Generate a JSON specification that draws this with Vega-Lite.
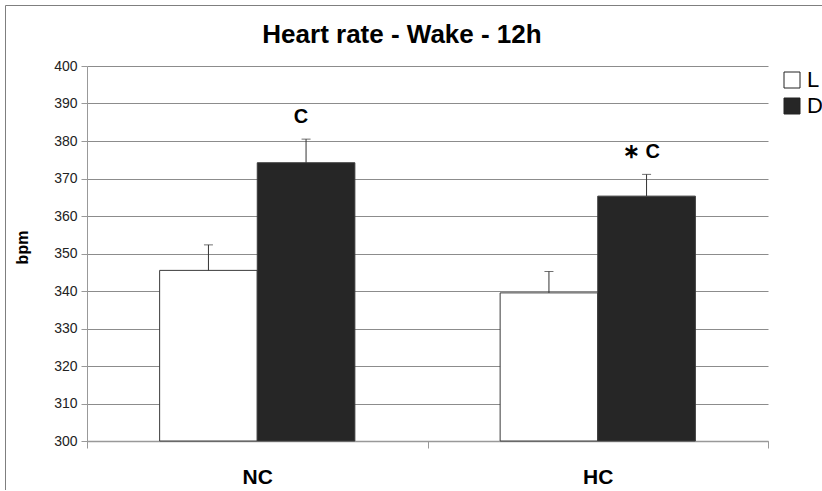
{
  "$schema": "https://vega.github.io/schema/vega-lite/v6.json",
  "autosize": {"type": "none"},
  "padding": {"left": 5, "top": 5, "right": 0, "bottom": 0},
  "width": 830,
  "height": 485,
  "background": "white",
  "config": {
    "font": "Liberation Sans",
    "view": {"stroke": "#7f7f7f", "strokeWidth": 1}
  },
  "title": {
    "text": "Heart rate - Wake - 12h",
    "font": "Liberation Sans",
    "fontSize": 26,
    "fontWeight": "bold",
    "color": "#000000",
    "anchor": "middle",
    "frame": "group",
    "baseline": "middle",
    "offset": 0,
    "dx": -18,
    "dy": 56
  },
  "data": {
    "values": [
      {"Group": "NC", "Sleep": "L", "bpm": 345.5, "errTop": 352.3, "label": ""},
      {"Group": "NC", "Sleep": "D", "bpm": 374.2, "errTop": 380.5, "label": "C"},
      {"Group": "HC", "Sleep": "L", "bpm": 339.5, "errTop": 345.2, "label": ""},
      {"Group": "HC", "Sleep": "D", "bpm": 365.3, "errTop": 371.1, "label": "∗ C"}
    ]
  },
  "encoding": {
    "x": {
      "field": "Group",
      "type": "nominal",
      "sort": ["NC", "HC"],
      "scale": {"range": [82, 763], "paddingInner": 0, "paddingOuter": 0},
      "axis": {
        "title": null,
        "offset": -49,
        "tickBand": "extent",
        "labelAngle": 0,
        "labelFont": "Liberation Sans",
        "labelFontSize": 21,
        "labelFontWeight": "bold",
        "labelColor": "#000000",
        "labelBaseline": "middle",
        "labelPadding": 29,
        "tickSize": 7,
        "tickColor": "#999999",
        "domainColor": "#999999",
        "domainWidth": 1.5,
        "tickWidth": 1
      }
    },
    "xOffset": {
      "field": "Sleep",
      "type": "nominal",
      "sort": ["L", "D"],
      "scale": {"paddingInner": 0, "paddingOuter": 0.744}
    }
  },
  "layer": [
    {
      "mark": {"type": "bar", "stroke": "#3a3a3a", "strokeWidth": 1},
      "encoding": {
        "y": {
          "field": "bpm",
          "type": "quantitative",
          "scale": {"domain": [300, 400], "range": [436, 61], "zero": false, "nice": false},
          "axis": {
            "offset": -82,
            "values": [300, 310, 320, 330, 340, 350, 360, 370, 380, 390, 400],
            "grid": true,
            "gridColor": "#8c8c8c",
            "gridWidth": 1,
            "domainColor": "#999999",
            "domainWidth": 1,
            "tickColor": "#999999",
            "tickSize": 6,
            "labelFont": "Liberation Sans",
            "labelFontSize": 14,
            "labelColor": "#222222",
            "labelPadding": 4,
            "title": "bpm",
            "titleFont": "Liberation Sans",
            "titleFontSize": 16,
            "titleFontWeight": "bold",
            "titleColor": "#000000",
            "titleAngle": -90,
            "titleBaseline": "middle",
            "titleAlign": "center",
            "titleX": -65,
            "titleY": 242
          }
        },
        "y2": {"datum": 300},
        "color": {
          "field": "Sleep",
          "type": "nominal",
          "sort": ["L", "D"],
          "scale": {"domain": ["L", "D"], "range": ["#ffffff", "#262626"]},
          "legend": {
            "orient": "none",
            "legendX": 776,
            "legendY": 64,
            "title": null,
            "padding": 0,
            "symbolType": "square",
            "symbolSize": 256,
            "symbolStrokeColor": "#222222",
            "symbolStrokeWidth": 1,
            "labelFont": "Liberation Sans",
            "labelFontSize": 22,
            "labelColor": "#000000",
            "labelOffset": 4,
            "rowPadding": 4
          }
        }
      }
    },
    {
      "mark": {"type": "rule", "color": "#333333", "strokeWidth": 1},
      "encoding": {
        "y": {"field": "bpm", "type": "quantitative"},
        "y2": {"field": "errTop"}
      }
    },
    {
      "mark": {"type": "tick", "color": "#333333", "thickness": 1, "size": 9, "orient": "horizontal"},
      "encoding": {
        "y": {"field": "errTop", "type": "quantitative"}
      }
    },
    {
      "mark": {"type": "text", "fontSize": 20, "fontWeight": "bold", "color": "#000000", "baseline": "middle", "dy": -22, "dx": -5},
      "encoding": {
        "y": {"field": "errTop", "type": "quantitative"},
        "text": {"field": "label"}
      }
    }
  ]
}
